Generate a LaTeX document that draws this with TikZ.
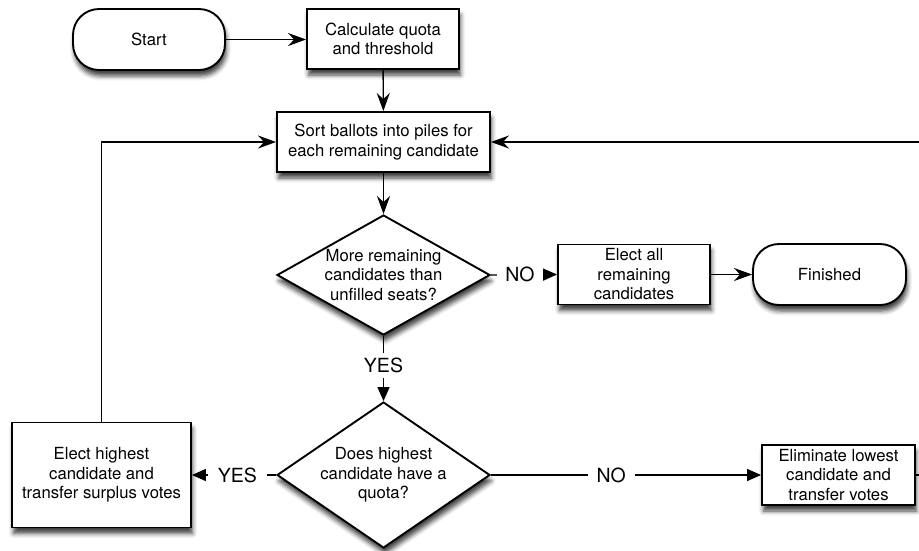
\documentclass[tikz,border=0pt]{standalone}
\usepackage{fontspec}
\setmainfont{TeX Gyre Heros}
\usetikzlibrary{shapes.geometric,arrows.meta,shadows.blur}
\begin{document}
\begin{tikzpicture}[x=1pt,y=-1pt,
  shd/.style={blur shadow={shadow xshift=1.5pt,shadow yshift=-6pt,shadow blur radius=4.5pt,shadow opacity=75}},
  txt/.style={font=\fontsize{16.7}{19.5}\selectfont, align=center},
  box/.style={draw, line width=1.9pt, fill=white, rectangle, inner sep=0pt, shd, txt},
  term/.style={box, rounded corners=26pt},
  decision/.style={draw, line width=1.9pt, fill=white, diamond, inner sep=-25pt, shd, txt},
  conn/.style={line width=1.4pt},
  stl/.style={conn, -{Stealth[length=18pt,width=13pt,inset=6pt]}},
  tri/.style={conn, -{Triangle[length=14pt,width=12pt]}},
  lbl/.style={font=\fontsize{19.5}{22}\selectfont, fill=white},
]
\useasboundingbox (0,0) rectangle (919,550);
\clip (0,0) rectangle (919,550);

\node[term, minimum width=152pt, minimum height=61pt] (start) at (149,39.5) {Start};
\node[box, minimum width=152pt, minimum height=60pt] (calc) at (383,39) {Calculate quota\\and threshold};
\node[box, minimum width=213pt, minimum height=60pt] (sort) at (383.5,142) {Sort ballots into piles for\\each remaining candidate};
\node[decision, minimum width=213pt, minimum height=120pt] (d1) at (383.5,275) {More remaining\\candidates than\\unfilled seats?};
\node[box, minimum width=152pt, minimum height=60pt] (all) at (634,274.5) {Elect all\\remaining\\candidates};
\node[term, minimum width=153pt, minimum height=61pt] (fin) at (829.5,274.5) {Finished};
\node[decision, minimum width=213pt, minimum height=146pt] (d2) at (383.5,475) {Does highest\\candidate have a\\quota?};
\node[box, minimum width=179pt, minimum height=105pt] (high) at (101.5,475) {Elect highest\\candidate and\\transfer surplus votes};
\node[box, minimum width=153pt, minimum height=60pt] (elim) at (838.5,475) {Eliminate lowest\\candidate and\\transfer votes};
\coordinate (rt) at (940,475);

\draw[stl] (start.east) -- (start.east -| calc.west);
\draw[stl] (calc) -- (sort);
\draw[stl] (sort) -- (d1);
\draw[tri] (d1.east) -- node[lbl, pos=0.44, inner xsep=8pt]{NO} (all.west);
\draw[stl] (all) -- (fin);
\draw[tri] (d1.south) -- node[lbl, pos=0.448, inner xsep=4pt, inner ysep=5pt]{YES} (d2.north);
\draw[tri] (d2.west) -- node[lbl, pos=0.46, inner xsep=10pt]{YES} (high.east);
\draw[tri] (d2.east) -- node[lbl, pos=0.445, inner xsep=9pt]{NO} (elim.west);
\draw[stl] (high.north) |- (sort.west);
\draw[stl] (elim.east) -- (rt) |- (sort.east);
\end{tikzpicture}
\end{document}
